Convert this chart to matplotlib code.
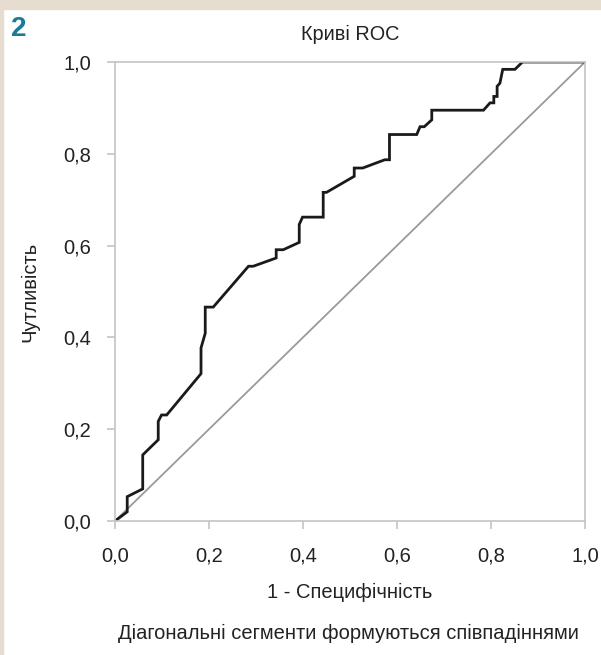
import matplotlib.pyplot as plt
from matplotlib.patches import Rectangle

# ROC curve points (1 - specificity, sensitivity)
fpr = [0.0, 0.026, 0.026, 0.059, 0.059, 0.092, 0.092, 0.099, 0.110, 0.183,
       0.183, 0.192, 0.192, 0.209, 0.284, 0.294, 0.343, 0.343, 0.358, 0.392,
       0.392, 0.399, 0.443, 0.443, 0.450, 0.509, 0.509, 0.527, 0.574, 0.584,
       0.584, 0.642, 0.649, 0.658, 0.674, 0.674, 0.784, 0.798, 0.806, 0.806,
       0.813, 0.813, 0.819, 0.825, 0.851, 0.867, 1.0]
tpr = [0.0, 0.020, 0.053, 0.070, 0.144, 0.177, 0.217, 0.231, 0.231, 0.321,
       0.377, 0.409, 0.466, 0.466, 0.555, 0.555, 0.573, 0.591, 0.591, 0.607,
       0.646, 0.662, 0.662, 0.716, 0.716, 0.751, 0.769, 0.769, 0.787, 0.787,
       0.842, 0.842, 0.859, 0.859, 0.874, 0.895, 0.895, 0.911, 0.911, 0.925,
       0.925, 0.947, 0.954, 0.984, 0.984, 1.0, 1.0]
ticks = [0.0, 0.2, 0.4, 0.6, 0.8, 1.0]
tick_labels = ['0,0', '0,2', '0,4', '0,6', '0,8', '1,0']

plt.rcParams['font.family'] = ['Liberation Sans', 'DejaVu Sans']

fig = plt.figure(figsize=(6.01, 6.55), dpi=100)
# beige frame strips
fig.patches.append(Rectangle((0, 1 - 9 / 655), 1, 9 / 655, transform=fig.transFigure,
                             color='#e6dccf', zorder=0))
fig.patches.append(Rectangle((0, 0), 3 / 601, 1, transform=fig.transFigure,
                             color='#e6dccf', zorder=0))

ax = fig.add_axes([115 / 601, 134 / 655, 470 / 601, 459 / 655])
ax.plot([0, 1], [0, 1], color='#9a9a9a', lw=1.3)
ax.plot(fpr, tpr, color='#1a1a1a', lw=2.0, solid_joinstyle='miter')
ax.set_xlim(0, 1)
ax.set_ylim(0, 1)
ax.set_xticks(ticks)
ax.set_xticklabels(tick_labels)
ax.set_yticks(ticks)
ax.set_yticklabels(tick_labels)
for s in ax.spines.values():
    s.set_color('#c4c4c4')
    s.set_linewidth(1.2)
ax.tick_params(length=5.8, width=1.2, color='#c4c4c4', labelsize=14.5,
               labelcolor='#222222')
ax.tick_params(axis='x', pad=12.5)
ax.tick_params(axis='y', pad=11.5)

fig.text(350 / 601, 1 - 34.5 / 655, 'Криві ROC', ha='center', va='center',
         fontsize=14.3, color='#222222')
fig.text(11 / 601, 1 - 29 / 655, '2', ha='left', va='center', fontsize=20,
         fontweight='bold', color='#1b7a96')
fig.text(350 / 601, 1 - 592 / 655, '1 - Специфічність', ha='center', va='center',
         fontsize=14.5, color='#222222')
fig.text(348 / 601, 1 - 633 / 655, 'Діагональні сегменти формуються співпадіннями',
         ha='center', va='center', fontsize=14.5, color='#222222')
fig.text(29.5 / 601, 1 - 292 / 655, 'Чутливість', ha='center', va='center',
         rotation=90, fontsize=14.5, color='#222222')

fig.savefig('out.png', dpi=100)
